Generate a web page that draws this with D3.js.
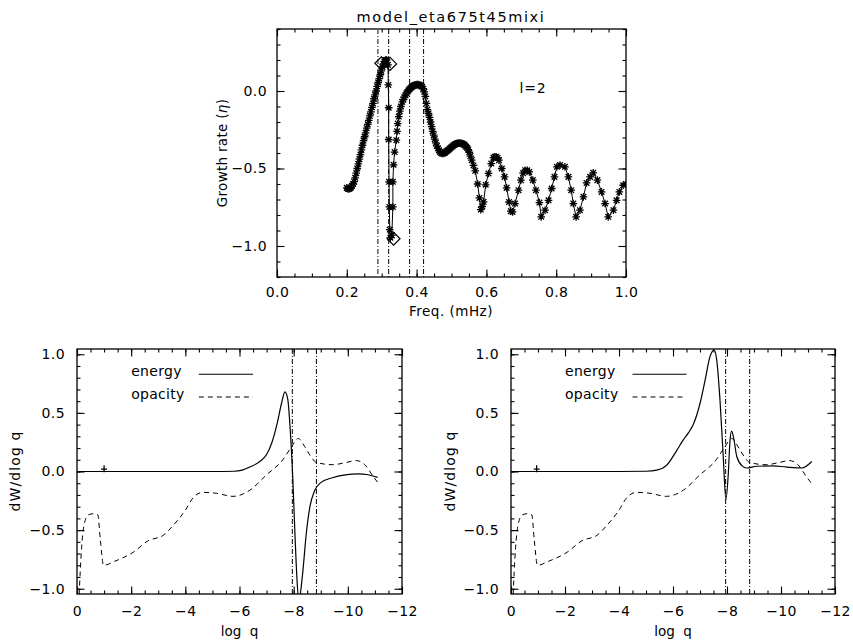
<!DOCTYPE html>
<html>
<head>
<meta charset="utf-8">
<script src="https://cdn.jsdelivr.net/npm/d3@7"></script>
<style>
  body { margin: 0; background: #fff; }
  svg { font-family: "DejaVu Sans", sans-serif; }
</style>
</head>
<body>
<div id="chart"></div>
<script>
// Growth rate vs frequency (top panel), [freq mHz, eta]
const growth = [
  [0.200,-0.625],[0.203,-0.63],[0.206,-0.632],[0.209,-0.628],[0.212,-0.622],[0.215,-0.612],[0.218,-0.60],
  [0.221,-0.585],[0.224,-0.56],[0.227,-0.53],[0.230,-0.50],[0.233,-0.47],[0.236,-0.44],[0.239,-0.41],
  [0.242,-0.38],[0.245,-0.35],[0.248,-0.32],[0.251,-0.295],[0.254,-0.27],[0.257,-0.24],[0.260,-0.215],
  [0.263,-0.19],[0.266,-0.16],[0.269,-0.135],[0.272,-0.105],[0.275,-0.08],[0.278,-0.05],[0.281,-0.025],
  [0.284,0.0],[0.287,0.03],[0.290,0.055],[0.293,0.08],[0.296,0.105],[0.299,0.13],[0.302,0.155],
  [0.305,0.175],[0.308,0.19],[0.311,0.20],[0.314,0.20],
  [0.318,0.168],[0.319,0.039],[0.320,-0.108],[0.320,-0.313],[0.321,-0.586],[0.322,-0.748],[0.323,-0.894],
  [0.325,-0.946],[0.329,-0.93],[0.332,-0.748],[0.332,-0.586],[0.334,-0.476],[0.337,-0.394],[0.342,-0.317],
  [0.344,-0.26],[0.346,-0.21],[0.349,-0.165],[0.352,-0.13],[0.355,-0.10],[0.359,-0.07],[0.362,-0.055],
  [0.365,-0.04],[0.368,-0.027],[0.371,-0.015],[0.374,-0.005],[0.377,0.005],[0.380,0.013],[0.383,0.02],
  [0.386,0.026],[0.389,0.031],[0.392,0.035],[0.395,0.038],[0.398,0.04],[0.401,0.041],[0.404,0.041],
  [0.407,0.04],[0.410,0.037],[0.413,0.033],[0.416,0.028],[0.419,0.015],[0.422,-0.005],[0.425,-0.035],
  [0.428,-0.08],[0.431,-0.12],[0.434,-0.145],[0.437,-0.17],[0.440,-0.20],[0.443,-0.23],[0.446,-0.26],
  [0.449,-0.285],[0.452,-0.31],[0.455,-0.335],[0.458,-0.355],[0.461,-0.37],[0.464,-0.383],[0.467,-0.393],
  [0.470,-0.40],[0.473,-0.403],[0.476,-0.403],[0.479,-0.40],[0.482,-0.396],[0.485,-0.39],[0.488,-0.385],
  [0.491,-0.38],[0.494,-0.374],[0.497,-0.368],[0.500,-0.362],[0.503,-0.356],[0.506,-0.35],[0.509,-0.346],
  [0.512,-0.342],[0.515,-0.339],[0.518,-0.337],[0.521,-0.336],[0.524,-0.336],[0.527,-0.337],[0.530,-0.339],
  [0.533,-0.342],[0.536,-0.346],[0.539,-0.352],[0.542,-0.36],[0.545,-0.368],[0.548,-0.378],[0.551,-0.395],
  [0.554,-0.42],[0.558,-0.446],[0.563,-0.48],[0.568,-0.515],[0.575,-0.60],[0.580,-0.69],[0.584,-0.765],
  [0.588,-0.745],[0.592,-0.715],[0.598,-0.605],[0.606,-0.532],[0.614,-0.468],[0.620,-0.43],[0.624,-0.425],
  [0.628,-0.425],[0.632,-0.432],[0.636,-0.446],[0.644,-0.50],[0.652,-0.554],[0.658,-0.625],[0.665,-0.716],
  [0.670,-0.775],[0.675,-0.78],[0.682,-0.726],[0.692,-0.64],[0.699,-0.575],[0.705,-0.53],[0.711,-0.511],
  [0.717,-0.512],[0.723,-0.522],[0.733,-0.575],[0.742,-0.64],[0.752,-0.72],[0.757,-0.812],[0.768,-0.769],
  [0.778,-0.705],[0.787,-0.629],[0.795,-0.554],[0.802,-0.489],[0.811,-0.478],[0.825,-0.489],[0.835,-0.554],
  [0.843,-0.64],[0.849,-0.726],[0.857,-0.812],[0.868,-0.769],[0.878,-0.683],[0.887,-0.593],[0.897,-0.554],
  [0.906,-0.528],[0.918,-0.575],[0.930,-0.651],[0.940,-0.726],[0.949,-0.812],[0.964,-0.769],[0.973,-0.705],
  [0.981,-0.651],[0.992,-0.608],[1.000,-0.60]
];
const diamonds = [[0.299,0.179],[0.324,0.175],[0.334,-0.953]];
const freqLines = [0.289, 0.32, 0.38, 0.42];

// Work integrals (bottom panels), [log q, dW/dlog q]
const energyLeft = [
  [0,0],[-1,0],[-2,0],[-3,0],[-4,0],[-5,0],[-5.8,0.002],[-6.1,0.012],[-6.4,0.04],[-6.75,0.085],
  [-7.0,0.145],[-7.2,0.25],[-7.4,0.42],[-7.55,0.58],[-7.68,0.68],[-7.78,0.62],[-7.88,0.33],[-7.97,-0.07],
  [-8.05,-0.55],[-8.13,-0.95],[-8.2,-1.12],[-8.27,-1.0],[-8.34,-0.85],[-8.47,-0.52],[-8.6,-0.3],
  [-8.78,-0.16],[-9.0,-0.095],[-9.4,-0.055],[-9.9,-0.028],[-10.4,-0.02],[-10.75,-0.028],[-11.1,-0.05]
];
const energyRight = [
  [0,0],[-1,0],[-2,0],[-3,0],[-4,0],[-5,0.002],[-5.4,0.012],[-5.77,0.055],[-6.14,0.18],[-6.38,0.27],
  [-6.57,0.33],[-6.75,0.40],[-7.0,0.58],[-7.19,0.78],[-7.37,0.98],[-7.52,1.035],[-7.62,0.95],[-7.74,0.61],
  [-7.86,0.13],[-7.96,-0.24],[-8.05,-0.01],[-8.11,0.26],[-8.17,0.345],[-8.26,0.27],[-8.36,0.13],
  [-8.55,0.05],[-8.73,0.03],[-9.1,0.045],[-9.7,0.048],[-10.2,0.038],[-10.77,0.03],[-11.14,0.085]
];
const opacity = [
  [-0.08,-1.05],[-0.12,-0.85],[-0.17,-0.65],[-0.23,-0.5],[-0.3,-0.42],[-0.42,-0.37],[-0.6,-0.36],
  [-0.77,-0.37],[-0.86,-0.58],[-0.98,-0.80],[-1.4,-0.765],[-2.07,-0.69],[-2.63,-0.59],[-3.18,-0.545],
  [-3.55,-0.46],[-4.0,-0.33],[-4.3,-0.22],[-4.65,-0.178],[-5.15,-0.186],[-5.76,-0.212],[-6.38,-0.16],
  [-6.99,-0.03],[-7.6,0.1],[-7.92,0.21],[-8.17,0.282],[-8.4,0.215],[-8.6,0.14],[-8.84,0.077],
  [-9.45,0.058],[-9.9,0.075],[-10.31,0.093],[-10.62,0.06],[-10.93,-0.04],[-11.17,-0.113]
];
const logqLines = [-7.95, -8.84];
const legendLabels = ['energy', 'opacity'];

// Tick labels
const topXTicks = [0, 0.2, 0.4, 0.6, 0.8, 1.0];
const topYTicks = [-1.0, -0.5, 0.0];
const botXTicks = [0, -2, -4, -6, -8, -10, -12];
const botYTicks = [-1.0, -0.5, 0.0, 0.5, 1.0];

const svg = d3.select('#chart').append('svg')
    .attr('width', 853)
    .attr('height', 642);

let clipId = 0;
function makePanel(o) {
    const x = d3.scaleLinear().domain(o.xDomain).range([o.left, o.right]);
    const y = d3.scaleLinear().domain(o.yDomain).range([o.bottom, o.top]);
    const g = svg.append('g');
    const id = 'clip' + (clipId++);
    svg.append('clipPath').attr('id', id).append('rect')
        .attr('x', o.left).attr('y', o.top)
        .attr('width', o.right - o.left).attr('height', o.bottom - o.top);

    // major + minor ticks on all four sides, pointing inward
    const sides = [
        [d3.axisBottom(x), `translate(0,${o.bottom})`, o.xTicks, o.xMinor, o.xFormat, true],
        [d3.axisTop(x), `translate(0,${o.top})`, o.xTicks, o.xMinor, o.xFormat, false],
        [d3.axisLeft(y), `translate(${o.left},0)`, o.yTicks, o.yMinor, o.yFormat, true],
        [d3.axisRight(y), `translate(${o.right},0)`, o.yTicks, o.yMinor, o.yFormat, false]
    ];
    sides.forEach(([ax, tr, major, minor, fmt, labels]) => {
        g.append('g').attr('transform', tr)
            .call(ax.tickValues(minor).tickSize(-3.5).tickFormat(''))
            .call(s => s.select('.domain').remove());
        const a = g.append('g').attr('transform', tr)
            .call(ax.tickValues(major).tickSize(-7.5).tickPadding(labels ? o.pad : 0)
                .tickFormat(labels ? fmt : ''));
        a.select('.domain').remove();
        a.selectAll('text').attr('font-size', 14).attr('fill', '#000')
            .attr('letter-spacing', 0.4)
            .attr('font-family', '"DejaVu Sans", sans-serif');
    });
    g.selectAll('.tick line').attr('stroke', '#000').attr('stroke-width', 1.1);

    g.append('rect')
        .attr('x', o.left).attr('y', o.top)
        .attr('width', o.right - o.left).attr('height', o.bottom - o.top)
        .attr('fill', 'none').attr('stroke', '#000').attr('stroke-width', 1.3);

    const plot = svg.append('g').attr('clip-path', `url(#${id})`);
    return { x, y, plot, g };
}

// ---------- top panel ----------
const tp = makePanel({
    left: 277, right: 626, top: 29, bottom: 277,
    xDomain: [0, 1], yDomain: [-1.2, 0.4],
    xTicks: topXTicks, xMinor: d3.range(0, 1.001, 0.05),
    yTicks: topYTicks, yMinor: d3.range(-1.2, 0.401, 0.1),
    xFormat: d3.format('.1f'), yFormat: d3.format('.1f'), pad: 10
});

freqLines.forEach((f, i) => {
    tp.plot.append('line')
        .attr('x1', tp.x(f)).attr('x2', tp.x(f))
        .attr('y1', 29).attr('y2', 277)
        .attr('stroke', i === 0 ? '#666' : '#000')
        .attr('stroke-width', i === 0 ? 1.6 : 1)
        .attr('stroke-dasharray', '5,2,1,2');
});

tp.plot.append('path')
    .datum(growth)
    .attr('d', d3.line().x(d => tp.x(d[0])).y(d => tp.y(d[1])))
    .attr('fill', 'none').attr('stroke', '#000').attr('stroke-width', 1);

const star = 'M-3.8,0L3.8,0M0,-3.8L0,3.8M-2.8,-2.8L2.8,2.8M-2.8,2.8L2.8,-2.8';
tp.plot.selectAll('.star')
    .data(growth)
    .enter()
    .append('path')
    .attr('class', 'star')
    .attr('transform', d => `translate(${tp.x(d[0])},${tp.y(d[1])})`)
    .attr('d', star)
    .attr('stroke', '#000').attr('stroke-width', 1.3).attr('fill', 'none');

tp.plot.selectAll('.dia')
    .data(diamonds)
    .enter()
    .append('path')
    .attr('class', 'dia')
    .attr('transform', d => `translate(${tp.x(d[0])},${tp.y(d[1])})`)
    .attr('d', 'M0,-6.5L6.5,0L0,6.5L-6.5,0Z')
    .attr('stroke', '#000').attr('stroke-width', 1.2).attr('fill', 'none');

svg.append('text')
    .attr('x', tp.x(0.695)).attr('y', tp.y(-0.013))
    .attr('font-size', 14)
    .attr('letter-spacing', 0.8)
    .text('l=2');

svg.append('text')
    .attr('x', 451).attr('y', 22)
    .attr('text-anchor', 'middle')
    .attr('font-size', 14.5)
    .attr('letter-spacing', 1.6)
    .text('model_eta675t45mixi');

svg.append('text')
    .attr('x', 451).attr('y', 316)
    .attr('text-anchor', 'middle')
    .attr('font-size', 13.5)
    .attr('letter-spacing', 0.5)
    .text('Freq. (mHz)');

const gl = svg.append('text')
    .attr('transform', 'translate(227,153) rotate(-90)')
    .attr('text-anchor', 'middle')
    .attr('font-size', 13.5)
    .attr('letter-spacing', 0.3);
gl.append('tspan').text('Growth rate (');
gl.append('tspan').attr('font-style', 'italic').text('η');
gl.append('tspan').text(')');

// ---------- bottom panels ----------
function workPanel(left, right, energy, plusAt, ylabelX) {
    const p = makePanel({
        left: left, right: right, top: 349, bottom: 594,
        xDomain: [0, -12], yDomain: [-1.045, 1.045],
        xTicks: botXTicks, xMinor: d3.range(0, -12.001, -0.5),
        yTicks: botYTicks, yMinor: d3.range(-1.0, 1.001, 0.1),
        xFormat: d3.format('d'), yFormat: d3.format('.1f'), pad: 12
    });

    logqLines.forEach(v => {
        p.plot.append('line')
            .attr('x1', p.x(v)).attr('x2', p.x(v))
            .attr('y1', 349).attr('y2', 594)
            .attr('stroke', '#000').attr('stroke-width', 1)
            .attr('stroke-dasharray', '5,2,1,2');
    });

    const line = d3.line().x(d => p.x(d[0])).y(d => p.y(d[1])).curve(d3.curveMonotoneX);
    p.plot.append('path').datum(opacity).attr('d', line)
        .attr('fill', 'none').attr('stroke', '#000').attr('stroke-width', 1)
        .attr('stroke-dasharray', '5,4');
    p.plot.append('path').datum(energy).attr('d', line)
        .attr('fill', 'none').attr('stroke', '#000').attr('stroke-width', 1.2);

    // small plus marker on the zero line
    p.plot.append('path')
        .attr('transform', `translate(${p.x(plusAt)},${p.y(0.02)})`)
        .attr('d', 'M-3,0L3,0M0,-4L0,3')
        .attr('stroke', '#000').attr('stroke-width', 1.3);

    // legend
    legendLabels.forEach((lab, i) => {
        const ly = p.y(0.83 - i * 0.195);
        svg.append('text')
            .attr('x', p.x(-2.0)).attr('y', ly + 2)
            .attr('font-size', 14)
            .attr('letter-spacing', 0.3)
            .text(lab);
        svg.append('line')
            .attr('x1', p.x(-4.5)).attr('x2', p.x(-6.5))
            .attr('y1', ly).attr('y2', ly)
            .attr('stroke', '#000').attr('stroke-width', 1.1)
            .attr('stroke-dasharray', i === 0 ? null : '5,4');
    });

    svg.append('text')
        .attr('x', (left + right) / 2).attr('y', 636)
        .attr('text-anchor', 'middle')
        .attr('font-size', 13.5)
        .attr('style', 'white-space: pre')
        .text('log  q');

    svg.append('text')
        .attr('transform', `translate(${ylabelX},471) rotate(-90)`)
        .attr('text-anchor', 'middle')
        .attr('font-size', 14)
        .attr('letter-spacing', 1.1)
        .text('dW/dlog q');
}

workPanel(77, 402, energyLeft, -1.0, 20);
workPanel(511, 835, energyRight, -0.95, 455);
</script>
</body>
</html>
